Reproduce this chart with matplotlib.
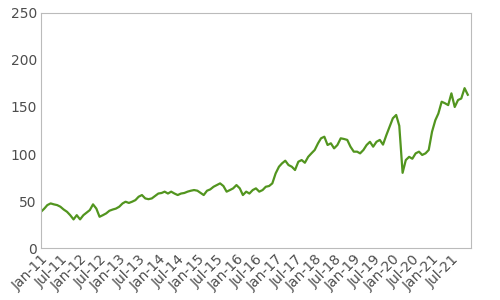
import matplotlib
matplotlib.use("Agg")
import matplotlib.pyplot as plt
import matplotlib.dates as mdates
import pandas as pd

# monthly values, Jan 2011 .. Dec 2021
v2011 = [38.6, 42, 45.7, 47.5, 46.5, 45.7, 44, 41, 38.6, 35, 30.5, 35]
v2012 = [30.5, 35, 37.6, 40.4, 46.5, 42, 33.3, 35, 36.9, 39.7, 41, 42]
v2013 = [44, 47.5, 49.3, 48, 49.3, 51, 54.6, 56.4, 52.8, 52, 52.8, 55.3]
v2014 = [58, 58.6, 60, 58, 60, 58, 56.4, 58, 58.6, 60, 61, 61.7]
v2015 = [61, 58.6, 56.4, 61, 62.4, 65.2, 67, 68.8, 66, 60, 61.7, 63.5]
v2016 = [67, 63.5, 56.4, 60, 58, 61.7, 63.5, 60, 61.7, 65.2, 66, 68.8]
v2017 = [79.4, 86.5, 90, 92.9, 88.3, 86.5, 83, 91.8, 93.6, 90.7, 97, 100.7]
v2018 = [104.3, 111.4, 116.7, 118.4, 109.6, 111.4, 106, 109.6, 116.7, 116, 115, 107.8]
v2019 = [102.5, 102.5, 100.7, 104.3, 109.6, 113, 107.8, 113, 115, 110, 120, 129]
v2020 = [138, 141.5, 130, 80, 93.6, 97, 95, 100.7, 102.5, 99, 100.7, 104.3]
v2021 = [123.7, 136, 143, 155.6, 154, 152, 164.5, 150, 157.4, 159, 170, 163]

values = (v2011 + v2012 + v2013 + v2014 + v2015 + v2016 + v2017 + v2018
          + v2019 + v2020 + v2021)
dates = pd.date_range("2011-01-01", periods=len(values), freq="MS")

yticks = [0, 50, 100, 150, 200, 250]

fig = plt.figure(figsize=(5, 3), dpi=100)
ax = fig.add_axes([0.082, 0.173, 0.86, 0.784])
ax.plot(dates, values, color="#52951f", linewidth=1.6)

ax.set_ylim(0, 250)
ax.set_yticks(yticks)
ax.set_xlim(dates[0], pd.Timestamp("2021-12-31"))
ax.xaxis.set_major_locator(mdates.MonthLocator(bymonth=[1, 7]))
ax.xaxis.set_major_formatter(mdates.DateFormatter("%b-%y"))

for s in ax.spines.values():
    s.set_color("#bbbbbb")
ax.tick_params(length=0, labelsize=10, labelcolor="#4d4d4d", pad=3)
plt.setp(ax.get_xticklabels(), rotation=45, ha="right", rotation_mode="anchor")

fig.savefig("out.png")
